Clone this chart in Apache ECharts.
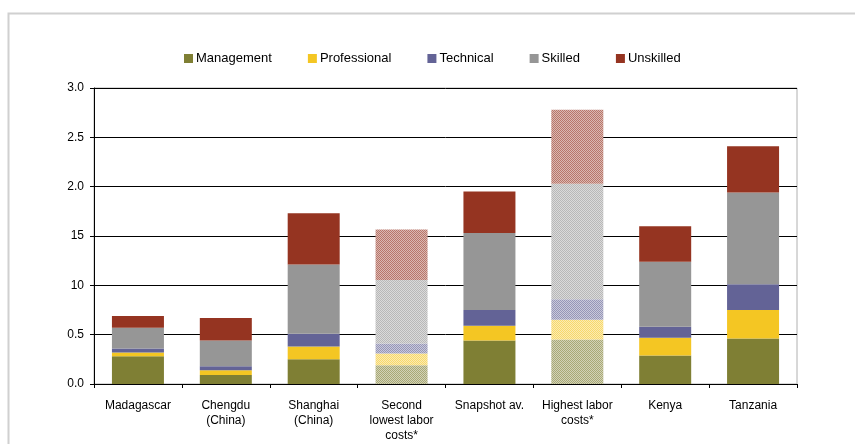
<!DOCTYPE html>
<html>
<head>
<meta charset="utf-8">
<script src="https://cdn.jsdelivr.net/npm/echarts@6/dist/echarts.min.js"></script>
<style>html,body{margin:0;padding:0;background:#fff;}#c{width:855px;height:444px;}</style>
</head>
<body>
<div id="c"></div>
<script>
const categories = ["Madagascar", "Chengdu\n(China)", "Shanghai\n(China)", "Second\nlowest labor\ncosts*", "Snapshot av.", "Highest labor\ncosts*", "Kenya", "Tanzania"];
const management   = [0.28, 0.09, 0.25, 0.19, 0.44, 0.45, 0.29, 0.46];
const professional = [0.04, 0.05, 0.13, 0.12, 0.15, 0.20, 0.18, 0.29];
const technical    = [0.04, 0.04, 0.13, 0.10, 0.16, 0.21, 0.11, 0.26];
const skilled      = [0.21, 0.26, 0.70, 0.645, 0.78, 1.17, 0.66, 0.93];
const unskilled    = [0.12, 0.23, 0.52, 0.51, 0.42, 0.75, 0.36, 0.47];
const patterned    = [false, false, false, true, false, true, false, false];
const yTickLabels  = {0: "0.0", 0.5: "0.5", 1: "10", 1.5: "15", 2: "2.0", 2.5: "2.5", 3: "3.0"};

const seriesDefs = [
  {name: "Management", data: management, color: "#7f7f34"},
  {name: "Professional", data: professional, color: "#f4c623"},
  {name: "Technical", data: technical, color: "#636396"},
  {name: "Skilled", data: skilled, color: "#969696"},
  {name: "Unskilled", data: unskilled, color: "#953421"}
];

function makePattern(color) {
  const cv = document.createElement("canvas");
  cv.width = 2; cv.height = 2;
  const ctx = cv.getContext("2d");
  ctx.fillStyle = "#ffffff";
  ctx.fillRect(0, 0, 2, 2);
  ctx.fillStyle = color;
  ctx.globalAlpha = 0.35;
  ctx.fillRect(0, 0, 2, 2);
  ctx.globalAlpha = 0.5;
  ctx.fillRect(0, 0, 1, 1);
  ctx.fillRect(1, 1, 1, 1);
  return cv;
}

const chart = echarts.init(document.getElementById("c"), null, {renderer: "canvas"});
const font = "Liberation Sans, Arial, sans-serif";

const series = seriesDefs.map(s => {
  const pat = makePattern(s.color);
  return {
    name: s.name,
    type: "bar",
    stack: "total",
    barWidth: 52,
    itemStyle: {color: s.color},
    emphasis: {disabled: true},
    data: s.data.map((v, i) => patterned[i]
      ? {value: v, itemStyle: {color: {image: pat, repeat: "repeat"}}}
      : v)
  };
});

chart.setOption({
  animation: false,
  backgroundColor: "#fff",
  graphic: [{
    type: "rect", left: 6, top: 11, z: -1,
    shape: {width: 900, height: 500},
    style: {fill: "none", stroke: "#d0d0d0", lineWidth: 2}
  }],
  legend: {
    top: 47, left: 179,
    itemWidth: 9, itemHeight: 9, itemGap: 36,
    icon: "rect",
    textStyle: {fontFamily: font, fontSize: 13, color: "#000", padding: [0, 0, 0, -2]},
    data: seriesDefs.map(s => s.name)
  },
  grid: {left: 94, right: 58, top: 88, bottom: 60, show: true, borderColor: "#b0b0b0", borderWidth: 1},
  xAxis: {
    type: "category",
    data: categories,
    axisLine: {lineStyle: {color: "#000", width: 1}},
    axisTick: {show: true, length: 4, lineStyle: {color: "#000"}},
    axisLabel: {fontFamily: font, fontSize: 12, color: "#000", margin: 14, lineHeight: 15, interval: 0}
  },
  yAxis: {
    type: "value", min: 0, max: 3, interval: 0.5,
    axisLine: {show: true, lineStyle: {color: "#000", width: 1}},
    axisTick: {show: true, length: 4, lineStyle: {color: "#000"}},
    splitLine: {lineStyle: {color: "#000", width: 1}},
    axisLabel: {fontFamily: font, fontSize: 12, color: "#000", margin: 10,
      formatter: v => yTickLabels[v] !== undefined ? yTickLabels[v] : String(v)}
  },
  series: series
});
</script>
</body>
</html>
